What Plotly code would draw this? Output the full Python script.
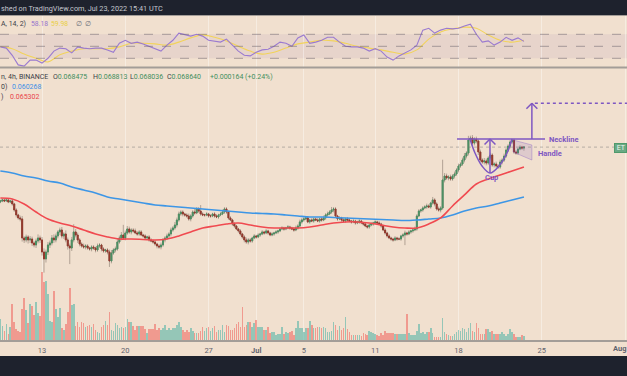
import pandas as pd
import plotly.graph_objects as go

# ---------------- data (ETH/BTC, 4h, Binance) ----------------
FIRST_CANDLE = "2022-06-09 12:00"
FIRST_OPEN = 0.05943

closes = [
    0.05960, 0.05977, 0.05960, 0.05977, 0.05943, 0.05960, 0.05910, 0.05809, 0.05725, 0.05675,
    0.05658, 0.05339, 0.05306, 0.05356, 0.05306, 0.05322, 0.05255, 0.05222, 0.05289, 0.05339,
    0.05306, 0.05104, 0.04987, 0.05104, 0.05222, 0.05255, 0.05339, 0.05306, 0.05373, 0.05440,
    0.05473, 0.05373, 0.05406, 0.05306, 0.05205, 0.05171, 0.05306, 0.05440, 0.05389, 0.05306,
    0.05238, 0.05205, 0.05188, 0.05205, 0.05171, 0.05155, 0.05188, 0.05171, 0.05138, 0.05205,
    0.05222, 0.05155, 0.05121, 0.05138, 0.05104, 0.04953, 0.05087, 0.05138, 0.05155, 0.05272,
    0.05339, 0.05389, 0.05339, 0.05423, 0.05490, 0.05440, 0.05473, 0.05457, 0.05423, 0.05406,
    0.05440, 0.05389, 0.05373, 0.05339, 0.05356, 0.05306, 0.05289, 0.05272, 0.05238, 0.05205,
    0.05188, 0.05222, 0.05306, 0.05339, 0.05373, 0.05406, 0.05473, 0.05507, 0.05557, 0.05641,
    0.05742, 0.05775, 0.05742, 0.05725, 0.05708, 0.05658, 0.05708, 0.05775, 0.05759, 0.05826,
    0.05792, 0.05742, 0.05725, 0.05725, 0.05742, 0.05708, 0.05708, 0.05742, 0.05708, 0.05691,
    0.05725, 0.05742, 0.05775, 0.05826, 0.05775, 0.05675, 0.05641, 0.05574, 0.05540, 0.05490,
    0.05457, 0.05406, 0.05356, 0.05306, 0.05272, 0.05306, 0.05289, 0.05339, 0.05373, 0.05356,
    0.05389, 0.05406, 0.05440, 0.05423, 0.05457, 0.05423, 0.05389, 0.05406, 0.05423, 0.05440,
    0.05457, 0.05490, 0.05507, 0.05490, 0.05507, 0.05524, 0.05507, 0.05490, 0.05473, 0.05507,
    0.05540, 0.05608, 0.05641, 0.05658, 0.05675, 0.05608, 0.05641, 0.05624, 0.05658, 0.05641,
    0.05624, 0.05658, 0.05641, 0.05675, 0.05725, 0.05742, 0.05775, 0.05809, 0.05826, 0.05708,
    0.05658, 0.05675, 0.05641, 0.05624, 0.05658, 0.05641, 0.05624, 0.05608, 0.05624, 0.05591,
    0.05608, 0.05624, 0.05591, 0.05574, 0.05540, 0.05524, 0.05557, 0.05574, 0.05591, 0.05608,
    0.05591, 0.05574, 0.05540, 0.05473, 0.05423, 0.05373, 0.05339, 0.05322, 0.05306, 0.05339,
    0.05322, 0.05322, 0.05373, 0.05389, 0.05423, 0.05406, 0.05440, 0.05457, 0.05473, 0.05490,
    0.05708, 0.05792, 0.05809, 0.05842, 0.05859, 0.05876, 0.05859, 0.05926, 0.05977, 0.05910,
    0.05826, 0.05809, 0.05842, 0.06312, 0.06379, 0.06346, 0.06362, 0.06329, 0.06379, 0.06413,
    0.06480, 0.06547, 0.06580, 0.06647, 0.06714, 0.06765, 0.06983, 0.07016, 0.06932, 0.06999,
    0.06966, 0.06782, 0.06647, 0.06614, 0.06631, 0.06597, 0.06681, 0.06731, 0.06564, 0.06580,
    0.06547, 0.06530, 0.06614, 0.06647, 0.06714, 0.06815, 0.06882, 0.06949, 0.06983, 0.06782,
    0.06765, 0.06832, 0.06865, 0.068475, 0.068640,
]

WICK_UNIT = 0.0001  # wick lengths below are in units of 0.0001 BTC
upper_wick = [
    2, 2, 1, 2, 2, 1, 3, 2, 3, 2,   4, 5, 3, 4, 3, 5, 4, 3, 4, 6,
    4, 5, 6, 4, 5, 4, 5, 6, 4, 3,   4, 5, 3, 6, 4, 4, 5, 13, 5, 4,
    3, 3, 4, 3, 3, 2, 3, 3, 2, 4,   3, 2, 3, 2, 3, 4, 5, 3, 4, 5,
    4, 5, 17, 4, 5, 4, 3, 3, 4, 3,  3, 3, 2, 3, 2, 3, 3, 2, 3, 2,
    3, 4, 3, 3, 4, 3, 4, 3, 5, 4,   4, 3, 3, 2, 3, 4, 3, 3, 5, 3,
    3, 10, 3, 2, 3, 2, 3, 2, 3, 3,  2, 3, 4, 3, 3, 2, 3, 2, 3, 2,
    2, 3, 2, 3, 4, 3, 3, 2, 3, 2,   3, 2, 3, 2, 3, 2, 2, 3, 2, 3,
    2, 2, 3, 2, 2, 3, 2, 2, 3, 4,   3, 4, 3, 3, 2, 3, 2, 3, 2, 2,
    3, 2, 3, 4, 3, 4, 3, 5, 3, 3,   2, 3, 2, 3, 2, 3, 2, 2, 3, 2,
    2, 3, 2, 2, 3, 2, 2, 3, 2, 3,   2, 3, 2, 2, 3, 2, 3, 2, 2, 3,
    2, 3, 2, 3, 4, 2, 3, 2, 3, 4,   3, 3, 2, 3, 3, 4, 3, 2, 5, 3,
    3, 4, 3, 34, 5, 4, 3, 4, 3, 4,  3, 4, 3, 4, 5, 3, 7, 4, 5, 3,
    4, 3, 4, 3, 5, 4, 3, 4, 3, 3,   4, 3, 4, 3, 4, 3, 3, 3, 2, 2,
    3, 2, 3, 2, 1.73,
]
lower_wick = [
    2, 2, 2, 1, 2, 2, 3, 3, 4, 3,   4, 6, 5, 4, 6, 5, 5, 4, 5, 4,
    5, 6, 23, 6, 5, 5, 4, 5, 4, 4,  5, 4, 5, 4, 6, 27, 5, 4, 4, 5,
    4, 3, 3, 4, 3, 3, 4, 3, 4, 3,   3, 4, 3, 3, 4, 10, 4, 3, 4, 3,
    3, 4, 3, 4, 3, 3, 4, 3, 2, 3,   3, 2, 3, 3, 2, 3, 2, 3, 3, 4,
    3, 4, 3, 4, 3, 3, 4, 3, 3, 4,   3, 3, 4, 3, 3, 3, 4, 3, 3, 2,
    3, 3, 2, 3, 2, 3, 3, 2, 3, 2,   3, 2, 2, 3, 3, 3, 2, 3, 3, 2,
    3, 3, 3, 4, 3, 4, 3, 3, 2, 3,   2, 3, 2, 3, 2, 3, 2, 2, 3, 2,
    3, 2, 2, 3, 2, 2, 3, 2, 3, 2,   3, 2, 3, 3, 2, 2, 3, 2, 3, 2,
    2, 3, 3, 2, 3, 3, 2, 3, 4, 3,   3, 2, 3, 2, 3, 2, 2, 3, 2, 3,
    2, 3, 2, 3, 2, 3, 3, 2, 3, 2,   3, 2, 3, 2, 3, 3, 2, 3, 3, 2,
    3, 2, 3, 3, 17, 3, 2, 3, 3, 2,  3, 2, 3, 3, 2, 3, 2, 3, 3, 4,
    3, 3, 4, 3, 4, 3, 4, 3, 3, 4,   3, 4, 3, 3, 4, 4, 4, 3, 5, 4,
    4, 5, 4, 3, 4, 4, 3, 4, 3, 4,   3, 3, 3, 4, 3, 3, 3, 4, 3, 3,
    3, 3, 2, 3, 4.39,
]

volume_k = [  # thousand ETH per 4h candle
    21, 14, 9, 16, 6, 13, 36, 18, 11, 9,   8, 31, 42, 30, 17, 36, 34, 25, 38, 27,
    24, 68, 58, 59, 46, 19, 18, 49, 31, 23,  32, 12, 10, 16, 28, 52, 35, 36, 14, 18,
    13, 18, 17, 13, 14, 15, 13, 16, 10, 8,   7, 13, 15, 19, 15, 28, 10, 9, 17, 15,
    12, 13, 12, 13, 21, 18, 18, 14, 10, 14,  14, 14, 14, 11, 7, 11, 11, 11, 16, 10,
    12, 10, 12, 15, 10, 12, 10, 12, 12, 15,  18, 13, 10, 8, 10, 8, 12, 9, 7, 7,
    7, 9, 13, 9, 12, 13, 9, 12, 14, 8,       10, 10, 15, 8, 15, 14, 10, 10, 12, 16,
    18, 13, 33, 13, 15, 18, 18, 13, 17, 20,  13, 13, 13, 10, 10, 13, 7, 8, 8, 5,
    6, 6, 13, 6, 8, 7, 8, 9, 5, 12,          19, 12, 12, 8, 12, 12, 19, 15, 12, 12,
    13, 13, 12, 13, 12, 8, 8, 9, 18, 15,     10, 14, 10, 12, 23, 11, 8, 5, 5, 5,
    5, 5, 4, 7, 6, 5, 9, 8, 7, 6,            5, 4, 7, 5, 9, 7, 7, 7, 7, 6,
    6, 6, 6, 6, 6, 26, 7, 5, 5, 5,           9, 16, 7, 8, 6, 8, 8, 12, 7, 3,
    3, 3, 3, 22, 8, 6, 5, 4, 4, 6,           8, 10, 9, 12, 11, 8, 12, 17, 9, 8,
    17, 12, 6, 6, 6, 11, 11, 8, 9, 6,        6, 6, 6, 8, 6, 4, 6, 11, 8, 6,
    3, 3, 3, 5, 4,
]

# moving averages, sampled once a day from FIRST_CANDLE
ma200_daily = [
    0.06463, 0.06429, 0.06379, 0.06346, 0.06295, 0.06262, 0.06195, 0.06144, 0.06094, 0.06027,
    0.05993, 0.05960, 0.05926, 0.05893, 0.05876, 0.05859, 0.05842, 0.05826, 0.05809, 0.05792,
    0.05775, 0.05759, 0.05750, 0.05742, 0.05725, 0.05708, 0.05691, 0.05691, 0.05683, 0.05675,
    0.05666, 0.05658, 0.05650, 0.05641, 0.05632, 0.05641, 0.05658, 0.05675, 0.05725, 0.05792,
    0.05842, 0.05876, 0.05926, 0.05977, 0.060268,
]
ma50_daily = [
    0.06010, 0.05993, 0.05910, 0.05775, 0.05658, 0.05591, 0.05540, 0.05473, 0.05406, 0.05356,
    0.05322, 0.05322, 0.05314, 0.05306, 0.05322, 0.05373, 0.05440, 0.05507, 0.05540, 0.05574,
    0.05591, 0.05557, 0.05524, 0.05507, 0.05507, 0.05507, 0.05524, 0.05557, 0.05591, 0.05608,
    0.05608, 0.05591, 0.05557, 0.05524, 0.05507, 0.05507, 0.05574, 0.05675, 0.05876, 0.06061,
    0.06245, 0.06329, 0.06396, 0.06463, 0.065302,
]

# RSI(14) sampled every 12h, and its moving average sampled daily
rsi_12h = [
    49, 47, 35, 19, 17, 27, 27, 22, 30, 42,  47, 46, 39, 49, 47, 46, 47, 47, 44, 40,
    55, 60, 55, 57, 54, 50, 47, 42, 52, 60,  72, 70, 67, 70, 67, 60, 59, 57, 62, 52,
    42, 35, 34, 40, 44, 45, 50, 57, 55, 50,  64, 69, 55, 57, 60, 65, 65, 57, 50, 49,
    49, 47, 42, 46, 42, 32, 27, 34, 39, 44,  52, 77, 80, 72, 77, 80, 79, 80, 84, 87,
    70, 57, 59, 52, 57, 65, 60, 64, 58.18,
]
rsi_ma_daily = [
    49, 46, 37, 30, 24, 36, 42, 46, 46, 46, 49, 55, 55, 54, 52, 57, 64, 69, 65, 59,
    50, 42, 37, 40, 47, 54, 57, 60, 59, 55, 50, 47, 44, 40, 37, 44, 62, 74, 79, 82,
    80, 69, 60, 57, 59.98,
]

tick_dates = ["2022-06-13", "2022-06-20", "2022-06-27", "2022-07-01", "2022-07-05",
              "2022-07-11", "2022-07-18", "2022-07-25", "2022-08-01"]
tick_text = ["13", "20", "27", "<b>Jul</b>", "5", "11", "18", "25", ""]
EDGE_TICK_TEXT = "<b>Aug</b>"  # last tick label, kept inside the picture's right edge

LAST_O, LAST_H, LAST_L, LAST_C = "0.068475", "0.068813", "0.068036", "0.068640"
CHANGE = "+0.000164 (+0.24%)"
MA200_LAST, MA50_LAST = "0.060268", "0.065302"
RSI_LAST, RSI_MA_LAST = "58.18", "59.98"
CURRENT_PRICE = 0.068640

# cup & handle drawing anchors
NECKLINE = 0.0700
NECK_START, NECK_END = "2022-07-17 21:00", "2022-07-25 06:30"
TARGET = 0.0760
TARGET_DATE = "2022-07-24 04:00"
TARGET_LINE_START, TARGET_LINE_END = "2022-07-24 10:00", "2022-08-03 00:00"
cup_dates = ["2022-07-18 23:10", "2022-07-19 09:15", "2022-07-19 23:25", "2022-07-20 15:30",
             "2022-07-21 09:40", "2022-07-22 01:50", "2022-07-22 11:55"]
cup_prices = [0.06999, 0.06765, 0.06547, 0.06429, 0.06547, 0.06765, 0.06999]
CUP_ARROW_DATE = "2022-07-20 15:30"
CUP_BOTTOM = 0.06429
handle_dates = ["2022-07-22 14:00", "2022-07-24 04:00", "2022-07-24 04:00", "2022-07-22 14:00", "2022-07-22 14:00"]
handle_prices = [0.06983, 0.06899, 0.06647, 0.06782, 0.06983]

# ---------------- build ----------------
W, H = 627, 376
BG = "#f1e0cf"
DARK = "#1e222d"
PURPLE = "#7e57c2"
GRID = "rgba(255,255,255,0.38)"
FONT = "Roboto"
TICK_COLOR = "#5f626d"

dates = pd.date_range(FIRST_CANDLE, periods=len(closes), freq="4h")
opens = [FIRST_OPEN] + closes[:-1]
highs = [max(o, c) + u * WICK_UNIT for o, c, u in zip(opens, closes, upper_wick)]
lows = [min(o, c) - l * WICK_UNIT for o, c, l in zip(opens, closes, lower_wick)]
body_hi = [max(o, c) for o, c in zip(opens, closes)]
body_lo = [min(o, c) for o, c in zip(opens, closes)]
up = [c >= o for o, c in zip(opens, closes)]

day_dates = pd.date_range(FIRST_CANDLE, periods=len(ma50_daily), freq="1D")
rsi_dates = pd.date_range(FIRST_CANDLE, periods=len(rsi_12h), freq="12h")


def py(p):
    return 1 - p / H


def px(p):
    return p / W


fig = go.Figure()

# volume (overlay axis)
fig.add_trace(go.Bar(
    x=dates, y=volume_k, yaxis="y3", xaxis="x",
    marker=dict(color=["rgba(38,166,154,0.45)" if u else "rgba(239,83,80,0.5)" for u in up],
                line=dict(width=0)),
    width=4 * 3600 * 1000 * 0.78, hoverinfo="skip", showlegend=False))

# wicks (grey)
WICK = "rgba(125,112,100,0.55)"
fig.add_trace(go.Candlestick(
    x=dates, open=opens, high=highs, low=lows, close=closes,
    increasing=dict(line=dict(color=WICK, width=1), fillcolor=WICK),
    decreasing=dict(line=dict(color=WICK, width=1), fillcolor=WICK),
    whiskerwidth=0, hoverinfo="skip", showlegend=False))
# bodies
fig.add_trace(go.Candlestick(
    x=dates, open=opens, high=body_hi, low=body_lo, close=closes,
    increasing=dict(line=dict(color="#4b8f63", width=1), fillcolor="#4b8f63"),
    decreasing=dict(line=dict(color="#93392d", width=1), fillcolor="#93392d"),
    whiskerwidth=0, showlegend=False))

fig.add_trace(go.Scatter(x=day_dates, y=ma200_daily, mode="lines", line=dict(color="#3d96e6", width=1.6, shape="spline"),
                         hoverinfo="skip", showlegend=False))
fig.add_trace(go.Scatter(x=day_dates, y=ma50_daily, mode="lines", line=dict(color="#f04a50", width=1.6, shape="spline"),
                         hoverinfo="skip", showlegend=False))

# RSI panel
fig.add_trace(go.Scatter(x=day_dates, y=rsi_ma_daily, xaxis="x2", yaxis="y2", mode="lines",
                         line=dict(color="#f2d35a", width=1.1, shape="spline"), hoverinfo="skip", showlegend=False))
fig.add_trace(go.Scatter(x=rsi_dates, y=rsi_12h, xaxis="x2", yaxis="y2", mode="lines",
                         line=dict(color="#9a7ad0", width=1.1), hoverinfo="skip", showlegend=False))

# cup & handle drawings
fig.add_trace(go.Scatter(x=handle_dates, y=handle_prices, mode="lines", fill="toself",
                         fillcolor="rgba(126,87,194,0.16)", line=dict(color="rgba(126,87,194,0.35)", width=1),
                         hoverinfo="skip", showlegend=False))
fig.add_trace(go.Scatter(x=cup_dates, y=cup_prices, mode="lines",
                         line=dict(color=PURPLE, width=1.5, shape="spline"), hoverinfo="skip", showlegend=False))

shapes = []


def seg(x0, y0, x1, y1, color=PURPLE, width=1.5, dash="solid"):
    shapes.append(dict(type="line", xref="x", yref="y", x0=x0, y0=y0, x1=x1, y1=y1,
                       line=dict(color=color, width=width, dash=dash)))


def arrow(date, base, tip):
    d = pd.Timestamp(date)
    half = pd.Timedelta(hours=11)
    head = 0.00092
    seg(d, base, d, tip)
    seg(d - half, tip - head, d, tip)
    seg(d, tip, d + half, tip - head)


seg(NECK_START, NECKLINE, NECK_END, NECKLINE)
arrow(TARGET_DATE, NECKLINE, TARGET)
seg(TARGET_LINE_START, TARGET, TARGET_LINE_END, TARGET, dash="dot")
arrow(CUP_ARROW_DATE, CUP_BOTTOM, NECKLINE)

# current price line
shapes.append(dict(type="line", xref="paper", yref="y", x0=0, x1=1, y0=CURRENT_PRICE, y1=CURRENT_PRICE,
                   line=dict(color="rgba(110,110,110,0.45)", width=1, dash="dot")))

# RSI band and levels
shapes.append(dict(type="rect", xref="paper", yref="y2", x0=0, x1=1, y0=30, y1=70,
                   fillcolor="rgba(120,80,160,0.08)", line=dict(width=0), layer="below"))
for lvl in (70, 50, 30):
    shapes.append(dict(type="line", xref="paper", yref="y2", x0=0, x1=1, y0=lvl, y1=lvl,
                       line=dict(color="rgba(110,100,110,0.55)", width=1, dash="dash")))

# frame: dark header/footer and separators
shapes.append(dict(type="rect", xref="paper", yref="paper", x0=0, x1=1, y0=py(15), y1=1,
                   fillcolor=DARK, line=dict(width=0)))
shapes.append(dict(type="rect", xref="paper", yref="paper", x0=0, x1=1, y0=0, y1=py(356),
                   fillcolor=DARK, line=dict(width=0)))
shapes.append(dict(type="line", xref="paper", yref="paper", x0=0, x1=1, y0=py(15.5), y1=py(15.5),
                   line=dict(color="#a39d98", width=1)))
shapes.append(dict(type="line", xref="paper", yref="paper", x0=0, x1=1, y0=py(67.5), y1=py(67.5),
                   line=dict(color="#a39d98", width=2)))

annotations = []


def label(x, y, text, color="#3b3e48", size=7, anchor="left", bold=False, **kw):
    if bold:
        text = "<b>" + text + "</b>"
    annotations.append(dict(xref="paper", yref="paper", x=px(x), y=py(y), text=text, showarrow=False,
                            xanchor=anchor, yanchor="middle", font=dict(family=FONT, size=size, color=color),
                            borderpad=0, **kw))


label(0, 8, "shed on TradingView.com, Jul 23, 2022 15:41 UTC", color="#c3c6ce", size=7.3)
label(0, 23.5, "A, 14, 2)", size=7)
label(30, 23.5, RSI_LAST, color="#9575cd", size=6.8)
label(50, 23.5, RSI_MA_LAST, color="#e9cf45", size=6.8)
label(75, 23.5, "∅", color="#6a6d78", size=7)
label(84, 23.5, "∅", color="#6a6d78", size=7)

G = "#3f8f60"
label(0, 77, "n, 4h, BINANCE", size=7)
label(52, 77, "O<span style='color:%s'>%s</span>" % (G, LAST_O), size=7)
label(92, 77, "H<span style='color:%s'>%s</span>" % (G, LAST_H), size=7)
label(129, 77, "L<span style='color:%s'>%s</span>" % (G, LAST_L), size=7)
label(166, 77, "C<span style='color:%s'>%s</span>" % (G, LAST_C), size=7)
label(209, 77, CHANGE, color=G, size=7)
label(0, 87, "0)", size=7)
label(11, 87, MA200_LAST, color="#3d8fe6", size=7)
label(0, 96.5, ")", size=7)
label(9, 96.5, MA50_LAST, color="#e8424a", size=7)

label(548, 139, "Neckline", color=PURPLE, size=7.5, bold=True)
label(537, 154, "Handle", color=PURPLE, size=7.5, bold=True)
label(491, 177.5, "Cup", color=PURPLE, size=7.5, bold=True, anchor="center")
label(627, 148, " ET", color="#eef6f0", size=7, anchor="right", bgcolor="#6aa984", bordercolor="#4f9a6c",
      borderwidth=1)
label(626.5, 348.5, EDGE_TICK_TEXT, color=TICK_COLOR, size=7.5, anchor="right")

x_left = pd.Timestamp("2022-06-09 11:18")
x_right = pd.Timestamp("2022-08-01 03:50")

axis_common = dict(range=[x_left, x_right], showgrid=True, gridcolor=GRID, gridwidth=1,
                   tickvals=tick_dates, ticktext=tick_text, zeroline=False, fixedrange=True)

fig.update_layout(
    width=W, height=H, margin=dict(l=0, r=0, t=0, b=0, pad=0),
    paper_bgcolor=BG, plot_bgcolor=BG, showlegend=False, dragmode=False,
    xaxis=dict(**axis_common, anchor="y", domain=[0, 1], rangeslider=dict(visible=False),
               showline=True, linecolor="#a39d98", linewidth=2, ticks="",
               tickfont=dict(family=FONT, size=7.5, color=TICK_COLOR), ticklabelstandoff=2),
    xaxis2=dict(**axis_common, anchor="y2", domain=[0, 1], matches="x", showticklabels=False,
                rangeslider=dict(visible=False)),
    yaxis=dict(domain=[py(340), py(69)], range=[0.036273, 0.081744], showticklabels=False,
               showgrid=False, zeroline=False, fixedrange=True),
    yaxis2=dict(domain=[py(67), py(16)], range=[15.5, 100.5], showticklabels=False,
                showgrid=False, zeroline=False, fixedrange=True),
    yaxis3=dict(overlaying="y", range=[0, max(volume_k) * 4], visible=False, fixedrange=True),
    shapes=shapes, annotations=annotations, bargap=0,
)

fig.write_html(
    "out.html",
    config={"displayModeBar": False, "staticPlot": True},
    post_script=(
        "document.documentElement.style.overflow='hidden';"
        "document.body.style.margin='0px';document.body.style.overflow='hidden';"
    ),
)
